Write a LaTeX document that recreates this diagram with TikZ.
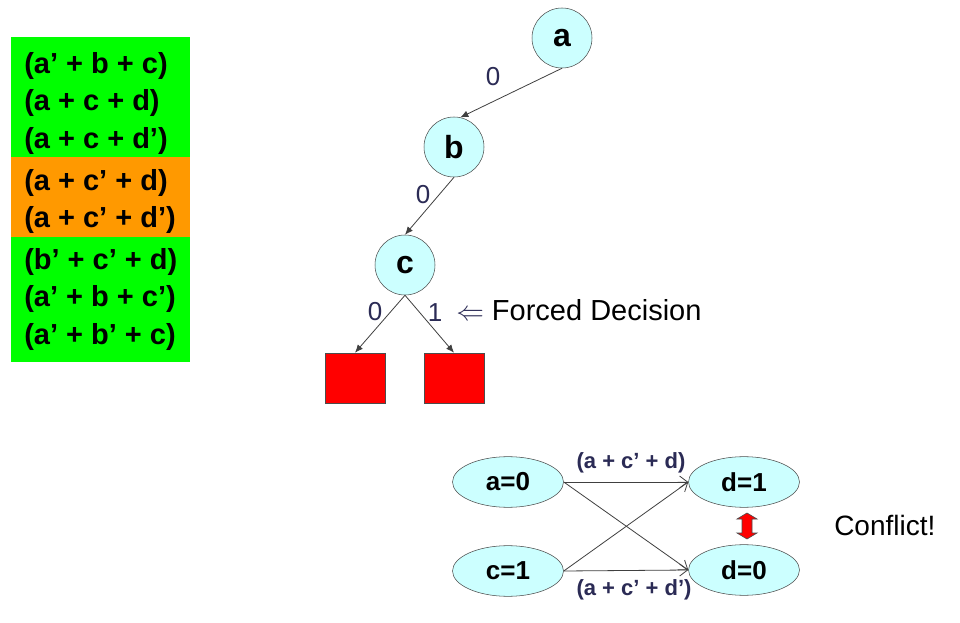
\documentclass[tikz,border=0pt]{standalone}
\usepackage{fontspec}
\setmainfont{Liberation Sans}
\usetikzlibrary{arrows.meta,shapes.geometric,calc}
\definecolor{nodecyan}{HTML}{CCFFFF}
\definecolor{clgreen}{HTML}{00FF00}
\definecolor{clorange}{HTML}{FF9900}
\definecolor{labnavy}{HTML}{2B2B55}
\begin{document}
\begin{tikzpicture}[x=0.75pt,y=-0.75pt,
  treenode/.style={circle, draw=black!70, fill=nodecyan, minimum size=45pt, inner sep=0, font=\fontsize{24}{28}\selectfont\bfseries},
  leaf/.style={rectangle, draw=black!70, fill=red, minimum width=45pt, minimum height=37.5pt, inner sep=0},
  clause/.style={anchor=west, inner sep=0, font=\fontsize{21.75}{26}\selectfont\bfseries},
  treeedge/.style={draw=black!75, line width=0.6pt, -{Latex[length=6pt,width=5pt]}},
  branchlab/.style={text=labnavy, inner sep=0, font=\fontsize{19.5}{23}\selectfont},
  gnode/.style={ellipse, draw=black!70, fill=nodecyan, minimum width=83.25pt, minimum height=38pt, inner sep=0, font=\fontsize{19.5}{23}\selectfont\bfseries},
  gedge/.style={draw=black!75, line width=0.6pt, -{Straight Barb[length=6pt,width=9pt]}},
  glab/.style={text=labnavy, inner sep=0, font=\fontsize{16.5}{20}\selectfont\bfseries}
]
\useasboundingbox (0,0) rectangle (960,623);
\fill[white] (0,0) rectangle (960,623);

% clause list
\fill[clgreen] (11,37) rectangle (190,157);
\fill[clorange] (11,157) rectangle (190,237);
\fill[clgreen] (11,237) rectangle (190,362);
\node[clause] (cl1) at (24,66) {(a’ + b + c)};
\node[clause] (cl2) at (24,103) {(a + c + d)};
\node[clause] (cl3) at (24,141) {(a + c + d’)};
\node[clause] (cl4) at (24,183) {(a + c’ + d)};
\node[clause] (cl5) at (24,220) {(a + c’ + d’)};
\node[clause] (cl6) at (24,262) {(b’ + c’ + d)};
\node[clause] (cl7) at (24,299) {(a’ + b + c’)};
\node[clause] (cl8) at (24,337) {(a’ + b’ + c)};

% decision tree
\node[treenode] (a) at (562,38) {a};
\node[treenode] (b) at (454,147) {b};
\node[treenode] (c) at (405,265) {c};
\node[leaf] (l0) at (355,378) {};
\node[leaf] (l1) at (454,378) {};
\draw[treeedge] (a.south) -- (b.78);
\draw[treeedge] (b.south) -- (c.north);
\draw[treeedge] (c.south) -- (l0.north);
\draw[treeedge] (c.south) -- (l1.north);
\node[branchlab] (e1) at (493,77) {0};
\node[branchlab] (e2) at (423,195) {0};
\node[branchlab] (e3) at (375,312) {0};
\node[branchlab] (e4) at (435,313) {1};
\node[anchor=west, inner sep=0, font=\fontsize{21.75}{26}\selectfont] (forced) at (456,310) {{\color{labnavy}$\Leftarrow$} Forced Decision};

% implication graph
\node[gnode] (a0) at (508,482) {a=0};
\node[gnode] (c1) at (508,571) {c=1};
\node[gnode] (d1) at (744,482) {d=1};
\node[gnode] (d0) at (744,570) {d=0};
\draw[gedge] (a0.east) -- (d1.west);
\draw[gedge] (a0.east) -- (d0.west);
\draw[gedge] (c1.east) -- (d1.west);
\draw[gedge] (c1.east) -- (d0.west);
\node[glab] (lab1) at (631,463) {(a + c’ + d)};
\node[glab] (lab2) at (634,590) {(a + c’ + d’)};
\coordinate (cm) at ($(d1.south)!0.5!(d0.north)+(3,0)$);
\draw[fill=red, draw=black!70, line width=0.5pt] (cm) ++(0,-13) -- ++(10,6) -- ++(-5,0) -- ++(0,14) -- ++(5,0) -- ++(-10,6) -- ++(-10,-6) -- ++(5,0) -- ++(0,-14) -- ++(-5,0) -- cycle;
\node[anchor=west, inner sep=0, font=\fontsize{21}{25}\selectfont] (conf) at (834,525) {Conflict!};
\end{tikzpicture}
\end{document}
